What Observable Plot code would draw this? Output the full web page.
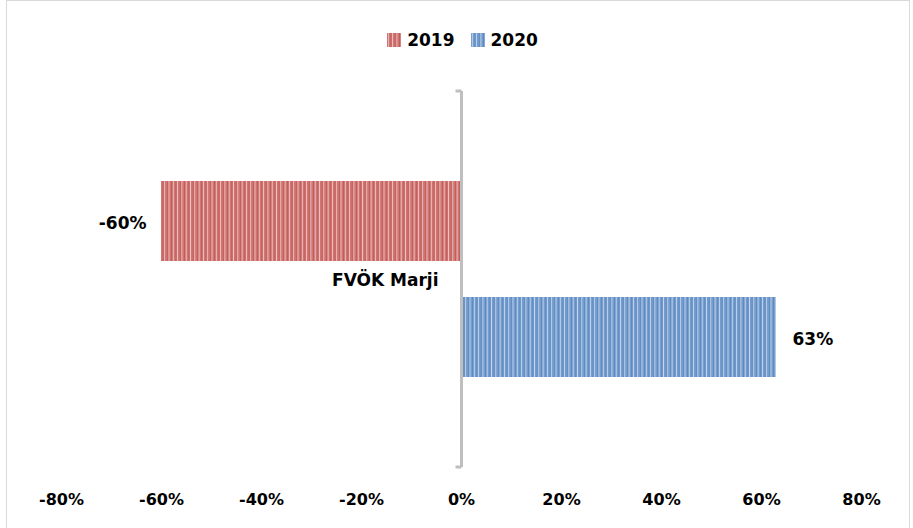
<!DOCTYPE html>
<html>
<head>
<meta charset="utf-8">
<script src="https://cdn.jsdelivr.net/npm/d3@7"></script>
<script src="https://cdn.jsdelivr.net/npm/@observablehq/plot@0.6"></script>
<style>
  html, body { margin: 0; padding: 0; background: #fff; }
  #wrap { position: relative; width: 913px; height: 528px; overflow: hidden; background: #fff;
          font-family: "DejaVu Sans", sans-serif; }
  #frame { position: absolute; left: 6px; top: 0px; width: 904px; height: 600px;
           border: 1.5px solid #d9d9d9; box-sizing: border-box; }
  #legend { position: absolute; top: 0; left: 0; width: 913px; height: 80px;
            display: flex; align-items: center; justify-content: center; padding-left: 12px; box-sizing: border-box;
            font-weight: bold; font-size: 17px; color: #000; }
  #legend .item { display: flex; align-items: center; margin: 0 8px; }
  #legend svg { margin-right: 6px; }
  #chart { position: absolute; top: 80px; left: 0; }
</style>
</head>
<body>
<svg width="0" height="0" style="position:absolute">
  <defs>
    <pattern id="p2019" patternUnits="userSpaceOnUse" width="4.3" height="10">
      <rect x="0" y="0" width="4.3" height="10" fill="#C0504D"></rect>
      <rect x="0.6" y="0" width="1.4" height="10" fill="#EDC4C3"></rect>
      <rect x="2.9" y="0" width="0.7" height="10" fill="#D98A88"></rect>
    </pattern>
    <pattern id="p2020" patternUnits="userSpaceOnUse" width="4.3" height="10">
      <rect x="0" y="0" width="4.3" height="10" fill="#4F81BD"></rect>
      <rect x="0.6" y="0" width="1.4" height="10" fill="#C5D6EC"></rect>
      <rect x="2.9" y="0" width="0.7" height="10" fill="#8DAED8"></rect>
    </pattern>
  </defs>
</svg>
<div id="wrap">
  <div id="frame"></div>
  <div id="legend"></div>
  <div id="chart"></div>
</div>
<script>
// ---- data ----
const categories = ["FVÖK Marji"];
const years = ["2019", "2020"];
const values2019 = [-0.60];
const values2020 = [0.63];
const xTicks = [-0.8, -0.6, -0.4, -0.2, 0, 0.2, 0.4, 0.6, 0.8];
const xTickLabels = ["-80%", "-60%", "-40%", "-20%", "0%", "20%", "40%", "60%", "80%"];
const seriesPatterns = ["url(#p2019)", "url(#p2020)"];

const rows = [];
categories.forEach((c, i) => {
  rows.push({category: c, year: years[0], value: values2019[i]});
  rows.push({category: c, year: years[1], value: values2020[i]});
});

const pct = v => Math.round(v * 100) + "%";

// legend
const legend = document.getElementById("legend");
years.forEach((y, i) => {
  const item = document.createElement("div");
  item.className = "item";
  item.innerHTML = `<svg width="14" height="14"><rect width="14" height="14" fill="${seriesPatterns[i]}"></rect></svg><span>${y}</span>`;
  legend.appendChild(item);
});

const plot = Plot.plot({
  width: 913,
  height: 448,
  marginTop: 11,
  marginBottom: 61,
  marginLeft: 61,
  marginRight: 52,
  style: {fontFamily: "DejaVu Sans, sans-serif", fontSize: "16px", background: "transparent"},
  x: {domain: [-0.8, 0.8], ticks: xTicks},
  y: {domain: years, paddingInner: 0.3077, paddingOuter: 0.7607, axis: null},
  color: {domain: years, range: seriesPatterns},
  marks: [
    Plot.barX(rows, {x: "value", y: "year", fill: "year"}),
    Plot.ruleX([0], {stroke: "#bfbfbf", strokeWidth: 3,
      render(index, scales, values, dims, context, next) {
        const g = next(index, scales, values, dims, context);
        const x0 = scales.x(0);
        const ns = "http://www.w3.org/2000/svg";
        [dims.marginTop, dims.height - dims.marginBottom].forEach(yy => {
          const l = document.createElementNS(ns, "line");
          l.setAttribute("x1", x0 - 6); l.setAttribute("x2", x0);
          l.setAttribute("y1", yy); l.setAttribute("y2", yy);
          l.setAttribute("stroke", "#bfbfbf"); l.setAttribute("stroke-width", 3);
          g.appendChild(l);
        });
        return g;
      }
    }),
    Plot.text(categories, {x: 0, text: d => d, textAnchor: "end", dx: -23, dy: 1, fontWeight: "bold", fontSize: 17, fill: "#000"}),
    Plot.text(rows.filter(d => d.value < 0), {x: "value", y: "year", text: d => pct(d.value), textAnchor: "end", dx: -15, dy: 2, fontWeight: "bold", fontSize: 17, fill: "#000"}),
    Plot.text(rows.filter(d => d.value >= 0), {x: "value", y: "year", text: d => pct(d.value), textAnchor: "start", dx: 16, dy: 2, fontWeight: "bold", fontSize: 17, fill: "#000"}),
    Plot.axisX({ticks: xTicks, tickSize: 0, tickPadding: 26, fontWeight: "bold", fontSize: 16, fill: "#000",
      tickFormat: d => xTickLabels[xTicks.findIndex(t => Math.abs(t - d) < 1e-9)], label: null})
  ]
});
document.getElementById("chart").appendChild(plot);
</script>
</body>
</html>
